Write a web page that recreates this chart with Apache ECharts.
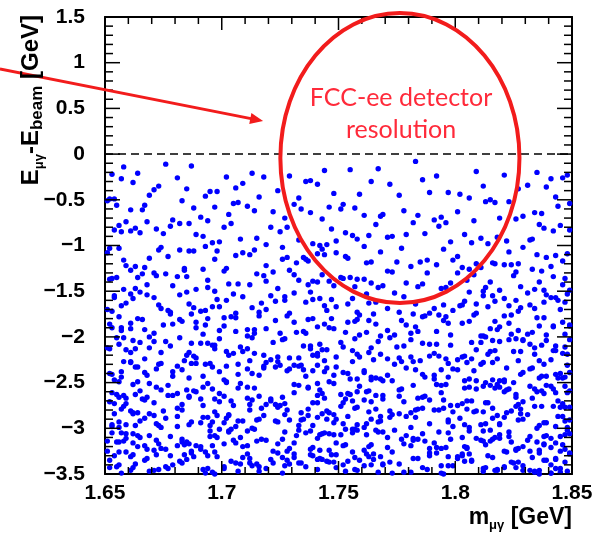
<!DOCTYPE html>
<html><head><meta charset="utf-8">
<script src="https://cdn.jsdelivr.net/npm/echarts@6/dist/echarts.min.js"></script>
<style>html,body{margin:0;padding:0;background:#fff}#c{width:598px;height:534px}</style>
</head><body><div id="c"></div>
<script>
// Axis ticks (GeV)
const xTickValues = [1.65, 1.7, 1.75, 1.8, 1.85];
const yTickValues = [-3.5, -3, -2.5, -2, -1.5, -1, -0.5, 0, 0.5, 1, 1.5];
const xMinorPerMajor = 5;
const yMinorPerMajor = 5;
const xTitle = ['m', '\u03bc\u03b3', ' [GeV]'];
const yTitle = ['E', '\u03bc\u03b3', '-E', 'beam', ' [GeV]'];
const annotationLines = ['FCC-ee detector', 'resolution'];
// annotation anchors in data coordinates (GeV)
const ellipseCenter = [1.7763, -0.043];
const ellipseRadii = [0.0512, 1.586];
const arrowStart = [1.605, 0.931];
const arrowEnd = [1.7177, 0.362];
const textAnchor1 = [1.7768, 0.614];
const textAnchor2 = [1.7768, 0.264];

// Event masses m_{mu gamma} (GeV)
const mass = [
1.713,1.658,1.792,1.744,1.821,1.676,1.835,1.702,1.767,1.653,1.809,1.729,1.687,1.848,1.755,1.664,1.783,1.718,1.841,1.695,1.772,1.806,1.736,1.669,1.827,
1.681,1.759,1.812,1.654,1.738,1.797,1.706,1.843,1.662,1.724,1.786,1.693,1.831,1.748,1.671,1.815,1.709,1.776,1.657,1.839,1.733,1.698,1.764,1.802,1.685,
1.846,1.716,1.673,1.789,1.741,1.652,1.823,1.761,1.697,1.808,1.666,1.752,1.727,1.834,1.683,1.794,1.711,1.659,1.778,1.817,1.703,1.743,1.688,1.849,1.768,
1.722,1.796,1.655,1.837,1.679,1.751,1.813,1.691,1.746,1.668,1.801,1.731,1.784,1.661,1.826,1.707,1.769,1.844,1.694,1.738,1.651,1.819,1.757,1.714,1.782,
1.667,1.829,1.734,1.705,1.791,1.656,1.758,1.842,1.719,1.682,1.804,1.749,1.663,1.773,1.836,1.696,1.725,1.811,1.678,1.787,1.742,1.654,1.832,1.701,1.763,
1.798,1.686,1.753,1.818,1.672,1.739,1.845,1.708,1.779,1.661,1.822,1.728,1.692,1.766,1.807,1.657,1.745,1.838,1.715,1.675,1.793,1.733,1.849,1.699,1.756,
1.704,1.771,1.665,1.814,1.747,1.689,1.833,1.721,1.652,1.785,1.741,1.803,1.677,1.761,1.824,1.698,1.736,1.659,1.795,1.846,1.712,1.684,1.768,1.816,1.726,
1.839,1.663,1.749,1.788,1.706,1.827,1.673,1.754,1.811,1.693,1.732,1.848,1.658,1.777,1.719,1.801,1.686,1.764,1.835,1.702,1.743,1.669,1.792,1.823,1.737,
1.674,1.809,1.728,1.651,1.781,1.843,1.714,1.697,1.762,1.829,1.667,1.744,1.799,1.688,1.821,1.735,1.656,1.775,1.709,1.841,1.753,1.682,1.817,1.726,1.661,
1.786,1.718,1.834,1.671,1.757,1.694,1.806,1.748,1.664,1.838,1.722,1.779,1.653,1.794,1.731,1.815,1.701,1.767,1.685,1.846,1.739,1.812,1.676,1.758,1.828,
1.692,1.741,1.825,1.658,1.773,1.712,1.847,1.684,1.796,1.733,1.666,1.819,1.755,1.703,1.837,1.679,1.788,1.724,1.652,1.808,1.764,1.697,1.842,1.719,1.771,
1.813,1.655,1.737,1.801,1.689,1.761,1.833,1.707,1.672,1.784,1.746,1.826,1.663,1.752,1.798,1.715,1.849,1.681,1.769,1.729,1.805,1.694,1.743,1.836,1.668,
1.751,1.831,1.699,1.662,1.776,1.817,1.721,1.845,1.686,1.738,1.791,1.654,1.809,1.766,1.705,1.823,1.677,1.747,1.839,1.713,1.659,1.782,1.727,1.803,1.691,
1.727,1.674,1.848,1.783,1.706,1.821,1.744,1.665,1.799,1.736,1.812,1.688,1.758,1.841,1.717,1.651,1.774,1.832,1.698,1.765,1.804,1.682,1.749,1.827,1.709,
1.844,1.763,1.693,1.816,1.657,1.731,1.789,1.702,1.828,1.671,1.754,1.806,1.719,1.847,1.678,1.742,1.795,1.661,1.834,1.723,1.687,1.778,1.814,1.739,1.653,
1.668,1.802,1.756,1.716,1.838,1.685,1.771,1.809,1.654,1.745,1.826,1.696,1.762,1.729,1.843,1.673,1.787,1.711,1.817,1.759,1.664,1.833,1.701,1.793,1.735,
1.797,1.711,1.835,1.748,1.679,1.824,1.763,1.657,1.786,1.725,1.846,1.699,1.741,1.813,1.666,1.779,1.732,1.808,1.689,1.757,1.839,1.706,1.771,1.652,1.821,
1.736,1.849,1.682,1.768,1.803,1.714,1.656,1.792,1.747,1.831,1.693,1.723,1.815,1.669,1.754,1.842,1.704,1.781,1.661,1.827,1.739,1.798,1.675,1.759,1.818,
1.683,1.753,1.819,1.701,1.847,1.766,1.661,1.737,1.811,1.689,1.784,1.728,1.836,1.671,1.795,1.746,1.657,1.823,1.716,1.774,1.842,1.694,1.762,1.806,1.719,
1.824,1.692,1.744,1.838,1.706,1.777,1.653,1.812,1.731,1.796,1.667,1.849,1.758,1.714,1.783,1.678,1.829,1.741,1.697,1.807,1.764,1.655,1.789,1.722,1.843,
1.759,1.816,1.674,1.735,1.801,1.687,1.848,1.727,1.663,1.776,1.832,1.709,1.752,1.685,1.819,1.743,1.796,1.658,1.768,1.837,1.702,1.781,1.724,1.669,1.811,
1.705,1.778,1.841,1.662,1.745,1.804,1.691,1.763,1.826,1.718,1.652,1.789,1.733,1.847,1.676,1.756,1.814,1.699,1.771,1.738,1.828,1.665,1.793,1.711,1.849,
1.791,1.656,1.729,1.834,1.767,1.703,1.817,1.682,1.749,1.798,1.661,1.839,1.721,1.775,1.694,1.809,1.741,1.671,1.825,1.757,1.689,1.843,1.714,1.786,1.738,
1.667,1.823,1.758,1.696,1.842,1.713,1.781,1.651,1.807,1.739,1.686,1.829,1.765,1.708,1.792,1.659,1.846,1.726,1.803,1.678,1.751,1.818,1.697,1.772,1.834,
1.815,1.742,1.688,1.797,1.657,1.832,1.724,1.769,1.679,1.848,1.755,1.712,1.786,1.664,1.821,1.735,1.805,1.692,1.761,1.838,1.701,1.779,1.668,1.744,1.813,
1.728,1.681,1.844,1.754,1.719,1.806,1.663,1.782,1.837,1.699,1.746,1.811,1.672,1.764,1.827,1.707,1.794,1.654,1.731,1.849,1.689,1.773,1.822,1.716,1.658,
1.846,1.761,1.702,1.825,1.673,1.736,1.799,1.684,1.816,1.752,1.661,1.787,1.723,1.843,1.695,1.768,1.808,1.741,1.656,1.833,1.713,1.777,1.686,1.801,1.748,
1.693,1.809,1.733,1.657,1.785,1.847,1.711,1.764,1.674,1.828,1.749,1.702,1.816,1.667,1.791,1.725,1.839,1.683,1.756,1.804,1.718,1.652,1.774,1.836,1.739,
1.771,1.718,1.664,1.836,1.744,1.797,1.687,1.821,1.729,1.653,1.812,1.758,1.696,1.845,1.734,1.679,1.783,1.819,1.707,1.766,1.661,1.829,1.745,1.791,1.702,
1.818,1.659,1.776,1.727,1.843,1.692,1.805,1.741,1.669,1.789,1.834,1.712,1.754,1.677,1.826,1.699,1.763,1.847,1.721,1.655,1.798,1.737,1.686,1.814,1.762,
1.704,1.832,1.751,1.683,1.809,1.726,1.662,1.795,1.848,1.737,1.671,1.822,1.769,1.708,1.784,1.654,1.817,1.743,1.691,1.839,1.716,1.778,1.665,1.801,1.758,
1.677,1.748,1.813,1.696,1.769,1.841,1.721,1.653,1.786,1.733,1.827,1.688,1.755,1.804,1.667,1.792,1.711,1.846,1.742,1.681,1.819,1.764,1.701,1.835,1.725,
1.842,1.713,1.782,1.656,1.739,1.821,1.694,1.766,1.807,1.672,1.753,1.838,1.719,1.685,1.796,1.744,1.663,1.829,1.707,1.776,1.812,1.659,1.731,1.849,1.697,
1.752,1.806,1.668,1.731,1.844,1.699,1.777,1.723,1.658,1.815,1.761,1.689,1.833,1.741,1.803,1.674,1.787,1.714,1.652,1.826,1.759,1.705,1.794,1.666,1.837,
1.686,1.794,1.741,1.823,1.679,1.756,1.711,1.847,1.768,1.664,1.799,1.728,1.813,1.692,1.751,1.839,1.703,1.781,1.657,1.734,1.818,1.673,1.763,1.829,1.717,
1.811,1.654,1.767,1.702,1.835,1.745,1.681,1.789,1.826,1.716,1.662,1.843,1.737,1.797,1.671,1.758,1.804,1.694,1.772,1.848,1.727,1.665,1.816,1.748,1.783,
1.733,1.779,1.697,1.849,1.713,1.662,1.802,1.757,1.686,1.831,1.724,1.791,1.653,1.768,1.842,1.709,1.746,1.819,1.676,1.784,1.739,1.698,1.827,1.661,1.806,
1.669,1.838,1.724,1.783,1.653,1.812,1.749,1.696,1.773,1.845,1.706,1.821,1.683,1.762,1.734,1.797,1.658,1.836,1.718,1.766,1.691,1.808,1.745,1.674,1.828,
1.795,1.707,1.846,1.675,1.758,1.816,1.692,1.737,1.805,1.663,1.781,1.729,1.849,1.701,1.772,1.824,1.656,1.748,1.834,1.687,1.764,1.712,1.819,1.743,1.681,
1.723,1.844,1.681,1.799,1.752,1.667,1.828,1.715,1.776,1.695,1.837,1.741,1.656,1.809,1.761,1.703,1.786,1.672,1.822,1.735,1.793,1.659,1.754,1.847,1.711,
1.838,1.678,1.761,1.816,1.704,1.792,1.743,1.655,1.827,1.769,1.686,1.803,1.722,1.847,1.696,1.758,1.811,1.668,1.779,1.731,1.841,1.709,1.653,1.787,1.746,
1.699,1.752,1.823,1.662,1.738,1.805,1.717,1.849,1.684,1.771,1.832,1.727,1.651,1.796,1.748,1.673,1.815,1.763,1.705,1.839,1.691,1.782,1.736,1.824,1.667,
1.774,1.826,1.708,1.749,1.659,1.841,1.782,1.695,1.813,1.732,1.676,1.798,1.756,1.664,1.835,1.714,1.789,1.845,1.701,1.767,1.687,1.819,1.742,1.658,1.805,
1.657,1.791,1.733,1.847,1.698,1.764,1.819,1.672,1.742,1.806,1.711,1.838,1.683,1.757,1.794,1.726,1.662,1.829,1.778,1.703,1.845,1.741,1.669,1.812,1.753,
1.812,1.729,1.665,1.786,1.836,1.719,1.753,1.681,1.843,1.697,1.771,1.823,1.656,1.738,1.809,1.762,1.691,1.848,1.724,1.784,1.651,1.797,1.715,1.832,1.674,
1.746,1.689,1.831,1.756,1.671,1.817,1.706,1.793,1.739,1.664,1.846,1.777,1.703,1.826,1.685,1.751,1.804,1.659,1.766,1.838,1.728,1.695,1.815,1.744,1.781,
1.683,1.849,1.716,1.801,1.767,1.654,1.788,1.734,1.822,1.694,1.759,1.841,1.672,1.799,1.745,1.707,1.833,1.679,1.762,1.818,1.721,1.652,1.776,1.836,1.698,
1.827,1.741,1.693,1.841,1.712,1.778,1.662,1.813,1.754,1.687,1.832,1.722,1.768,1.657,1.807,1.736,1.849,1.701,1.789,1.669,1.824,1.757,1.713,1.795,1.743,
1.715,1.803,1.758,1.667,1.826,1.739,1.696,1.847,1.773,1.655,1.784,1.818,1.708,1.749,1.834,1.682,1.761,1.801,1.726,1.843,1.677,1.792,1.733,1.661,1.816,
1.769,1.662,1.839,1.724,1.781,1.706,1.814,1.673,1.742,1.829,1.697,1.753,1.807,1.684,1.845,1.731,1.656,1.794,1.765,1.711,1.821,1.748,1.688,1.836,1.729,
1.821,1.704,1.747,1.812,1.668,1.797,1.836,1.719,1.683,1.763,1.841,1.728,1.659,1.786,1.752,1.694,1.829,1.741,1.806,1.676,1.772,1.845,1.709,1.757,1.663,
1.738,1.794,1.685,1.848,1.756,1.712,1.821,1.661,1.773,1.804,1.731,1.692,1.843,1.764,1.678,1.817,1.746,1.701,1.789,1.834,1.652,1.726,1.812,1.769,1.697,
1.803,1.671,1.765,1.727,1.838,1.693,1.782,1.749,1.656,1.825,1.716,1.797,1.843,1.684,1.753,1.809,1.736,1.664,1.847,1.771,1.706,1.819,1.741,1.679,1.791
];

// Event energy differences E_{mu gamma} - E_beam (GeV), read band by band from the top
const deltaE = [
-0.21,-0.14,-0.24,-0.18,-0.23,-0.11,-0.2,-0.25,-0.16,-0.22,-0.19,-0.24,-0.13,-0.23,-0.17,-0.21,-0.08,-0.25,
-0.27,-0.41,-0.33,-0.48,-0.3,-0.45,-0.38,-0.26,-0.44,-0.35,-0.49,-0.29,-0.42,-0.37,-0.47,-0.31,-0.4,-0.28,-0.46,-0.34,-0.43,-0.39,-0.5,-0.32,-0.45,-0.27,-0.36,-0.48,-0.41,-0.3,-0.44,-0.38,-0.26,-0.47,-0.35,-0.42,-0.33,-0.49,
-0.52,-0.67,-0.58,-0.73,-0.61,-0.55,-0.7,-0.64,-0.51,-0.69,-0.57,-0.74,-0.62,-0.53,-0.66,-0.71,-0.59,-0.54,-0.68,-0.63,-0.75,-0.56,-0.65,-0.72,-0.6,-0.52,-0.69,-0.58,-0.74,-0.63,-0.55,-0.67,-0.61,-0.71,-0.53,-0.66,-0.57,-0.73,-0.64,-0.51,-0.7,-0.59,-0.62,-0.75,-0.56,-0.68,-0.6,-0.54,-0.72,
-0.78,-0.93,-0.84,-0.99,-0.76,-0.88,-0.95,-0.81,-0.9,-0.77,-0.97,-0.85,-0.92,-0.79,-0.87,-1.0,-0.83,-0.94,-0.8,-0.89,-0.96,-0.76,-0.86,-0.91,-0.82,-0.98,-0.78,-0.93,-0.88,-0.84,-0.95,-0.8,-0.9,-0.77,-0.97,-0.85,-0.99,-0.81,-0.92,-0.87,-0.79,-0.94,-0.83,-0.96,-0.89,-0.76,-0.91,-0.86,-0.98,-0.82,-0.88,-0.93,-0.8,
-1.03,-1.18,-1.09,-1.24,-1.12,-1.01,-1.21,-1.06,-1.15,-1.22,-1.04,-1.17,-1.1,-1.25,-1.07,-1.19,-1.02,-1.13,-1.23,-1.08,-1.16,-1.11,-1.2,-1.05,-1.14,
-1.24,-1.01,-1.19,-1.09,-1.16,-1.03,-1.22,-1.12,-1.06,-1.18,-1.1,-1.25,-1.04,-1.14,-1.21,-1.07,-1.17,-1.02,-1.2,-1.13,-1.08,-1.23,-1.11,-1.05,-1.15,
-1.19,-1.02,-1.24,-1.1,-1.16,-1.06,-1.21,-1.13,-1.03,-1.18,-1.08,-1.23,-1.12,-1.05,-1.2,-1.15,
-1.27,-1.42,-1.33,-1.48,-1.3,-1.45,-1.38,-1.26,-1.44,-1.35,-1.49,-1.29,-1.41,-1.36,-1.47,-1.32,-1.4,-1.28,-1.46,-1.34,-1.43,-1.39,-1.5,-1.31,-1.37,
-1.45,-1.26,-1.4,-1.33,-1.48,-1.29,-1.43,-1.36,-1.27,-1.46,-1.38,-1.31,-1.49,-1.35,-1.42,-1.28,-1.44,-1.3,-1.47,-1.37,-1.32,-1.41,-1.5,-1.34,-1.39,
-1.28,-1.46,-1.35,-1.43,-1.3,-1.48,-1.37,-1.26,-1.42,-1.33,-1.45,-1.39,-1.29,-1.47,-1.36,-1.41,-1.31,-1.49,-1.34,-1.44,-1.27,-1.38,-1.46,-1.32,-1.4,
-1.43,-1.35,
-1.52,-1.67,-1.58,-1.73,-1.61,-1.55,-1.7,-1.64,-1.51,-1.69,-1.57,-1.74,-1.62,-1.53,-1.66,-1.71,-1.59,-1.54,-1.68,-1.63,-1.75,-1.56,-1.65,-1.72,-1.6,
-1.69,-1.53,-1.64,-1.74,-1.58,-1.66,-1.51,-1.71,-1.62,-1.55,-1.68,-1.73,-1.57,-1.63,-1.7,-1.52,-1.65,-1.59,-1.75,-1.61,-1.54,-1.67,-1.72,-1.56,-1.6,
-1.63,-1.71,-1.55,-1.66,-1.52,-1.74,-1.6,-1.68,-1.57,-1.64,-1.51,-1.7,-1.62,-1.73,-1.58,-1.65,-1.53,-1.69,-1.61,-1.75,-1.56,-1.67,-1.59,-1.72,-1.54,
-1.66,-1.58,-1.73,-1.62,-1.51,-1.69,-1.64,-1.55,-1.71,-1.6,-1.67,-1.53,-1.74,-1.57,-1.65,
-1.77,-1.92,-1.83,-1.98,-1.8,-1.95,-1.88,-1.76,-1.94,-1.85,-1.99,-1.79,-1.91,-1.86,-1.97,-1.82,-1.9,-1.78,-1.96,-1.84,-1.93,-1.89,-2.0,-1.81,-1.87,
-1.95,-1.76,-1.9,-1.83,-1.98,-1.79,-1.93,-1.86,-1.77,-1.96,-1.88,-1.81,-1.99,-1.85,-1.92,-1.78,-1.94,-1.8,-1.97,-1.87,-1.82,-1.91,-2.0,-1.84,-1.89,
-1.78,-1.96,-1.85,-1.93,-1.8,-1.98,-1.87,-1.76,-1.92,-1.83,-1.95,-1.89,-1.79,-1.97,-1.86,-1.91,-1.81,-1.99,-1.84,-1.94,-1.77,-1.88,-1.96,-1.82,-1.9,
-1.93,-1.85,-1.77,-1.98,-1.88,-1.8,-1.95,-1.83,-1.91,-1.76,-1.97,-1.86,-1.79,-1.94,-1.82,-1.9,-1.99,-1.84,-1.78,-1.92,-1.87,-1.81,-1.96,-1.89,-1.75,
-2.03,-2.18,-2.09,-2.24,-2.12,-2.01,-2.21,-2.06,-2.15,-2.22,-2.04,-2.17,-2.1,-2.25,-2.07,-2.19,-2.02,-2.13,-2.23,-2.08,-2.16,-2.11,-2.2,-2.05,-2.14,
-2.24,-2.01,-2.19,-2.09,-2.16,-2.03,-2.22,-2.12,-2.06,-2.18,-2.1,-2.25,-2.04,-2.14,-2.21,-2.07,-2.17,-2.02,-2.2,-2.13,-2.08,-2.23,-2.11,-2.05,-2.15,
-2.19,-2.02,-2.24,-2.1,-2.16,-2.06,-2.21,-2.13,-2.03,-2.18,-2.08,-2.23,-2.12,-2.05,-2.2,-2.15,-2.01,-2.22,-2.09,-2.17,-2.04,-2.25,-2.11,-2.07,-2.14,
-2.21,-2.05,-2.16,-2.02,-2.23,-2.1,-2.18,-2.07,-2.13,-2.24,-2.03,-2.19,-2.09,-2.15,-2.01,-2.22,-2.12,-2.06,-2.2,-2.17,-2.04,-2.25,-2.11,-2.08,-2.14,
-2.18,-2.03,-2.22,-2.1,-2.06,-2.24,-2.13,-2.01,-2.19,-2.16,-2.08,-2.21,
-2.29,-2.44,-2.35,-2.27,-2.48,-2.38,-2.31,-2.46,-2.26,-2.41,-2.33,-2.49,-2.36,-2.28,-2.43,-2.39,-2.3,-2.47,-2.34,-2.42,-2.26,-2.5,-2.37,-2.32,-2.45,
-2.4,-2.28,-2.46,-2.33,-2.27,-2.43,-2.38,-2.49,-2.3,-2.35,-2.44,-2.26,-2.41,-2.36,-2.47,-2.31,-2.39,-2.29,-2.48,-2.34,-2.42,-2.27,-2.45,-2.37,-2.32,
-2.5,-2.3,-2.43,-2.35,-2.26,-2.47,-2.39,-2.28,-2.44,-2.33,-2.41,-2.29,-2.46,-2.37,-2.31,-2.49,-2.34,-2.4,-2.27,-2.45,-2.36,-2.42,-2.3,-2.48,-2.32,
-2.38,-2.26,-2.44,-2.35,-2.47,-2.29,-2.41,-2.33,-2.5,-2.28,-2.39,-2.46,-2.31,-2.43,-2.36,-2.27,-2.48,-2.34,-2.4,-2.3,-2.45,-2.37,-2.42,-2.32,-2.49,
-2.26,-2.38,-2.44,-2.29,-2.47,-2.35,-2.41,-2.28,-2.46,-2.33,-2.4,-2.31,-2.43,-2.36,-2.48,-2.3,-2.45,-2.27,-2.39,-2.34,-2.42,-2.49,
-2.52,-2.67,-2.58,-2.73,-2.61,-2.55,-2.7,-2.64,-2.51,-2.69,-2.57,-2.74,-2.62,-2.53,-2.66,-2.71,-2.59,-2.54,-2.68,-2.63,-2.75,-2.56,-2.65,-2.72,-2.6,
-2.7,-2.54,-2.63,-2.74,-2.57,-2.66,-2.52,-2.69,-2.61,-2.55,-2.72,-2.58,-2.64,-2.51,-2.67,-2.73,-2.56,-2.62,-2.68,-2.53,-2.65,-2.71,-2.59,-2.75,-2.6,
-2.64,-2.51,-2.72,-2.57,-2.68,-2.54,-2.7,-2.61,-2.66,-2.53,-2.74,-2.59,-2.63,-2.56,-2.69,-2.52,-2.67,-2.73,-2.58,-2.62,-2.55,-2.71,-2.65,-2.6,-2.75,
-2.57,-2.69,-2.53,-2.66,-2.72,-2.6,-2.51,-2.64,-2.7,-2.55,-2.68,-2.62,-2.74,-2.58,-2.52,-2.67,-2.63,-2.71,-2.56,-2.65,-2.54,-2.73,-2.61,-2.59,-2.68,
-2.72,-2.55,-2.66,-2.52,-2.7,-2.62,-2.57,-2.74,-2.64,-2.53,-2.69,-2.6,-2.67,-2.51,-2.73,-2.58,-2.65,-2.56,-2.71,-2.63,-2.54,-2.75,-2.61,-2.68,-2.59,
-2.66,-2.53,-2.72,-2.57,-2.64,-2.7,-2.55,
-2.77,-2.92,-2.83,-2.98,-2.8,-2.95,-2.88,-2.76,-2.94,-2.85,-2.99,-2.79,-2.91,-2.86,-2.97,-2.82,-2.9,-2.78,-2.96,-2.84,-2.93,-2.89,-3.0,-2.81,-2.87,
-2.95,-2.76,-2.9,-2.83,-2.98,-2.79,-2.93,-2.86,-2.77,-2.96,-2.88,-2.81,-2.99,-2.85,-2.92,-2.78,-2.94,-2.8,-2.97,-2.87,-2.82,-2.91,-3.0,-2.84,-2.89,
-2.78,-2.96,-2.85,-2.93,-2.8,-2.98,-2.87,-2.76,-2.92,-2.83,-2.95,-2.89,-2.79,-2.97,-2.86,-2.91,-2.81,-2.99,-2.84,-2.94,-2.77,-2.88,-2.96,-2.82,-2.9,
-2.93,-2.85,-2.77,-2.98,-2.88,-2.8,-2.95,-2.83,-2.91,-2.76,-2.97,-2.86,-2.79,-2.94,-2.82,-2.9,-2.99,-2.84,-2.78,-2.92,-2.87,-2.81,-2.96,-2.89,-2.75,
-2.86,-2.79,-2.97,-2.83,-2.91,-2.77,-2.94,-2.88,-2.81,-2.99,-2.85,-2.76,-2.93,-2.9,-2.8,-2.96,-2.84,-2.78,-2.92,-2.87,-2.98,-2.82,-2.95,-2.89,-2.79,
-2.91,-2.84,-2.97,-2.76,-2.88,-2.93,-2.81,-2.99,-2.86,-2.78,-2.95,-2.83,-2.9,-2.8,-2.96,-2.87,-2.92,
-3.03,-3.18,-3.09,-3.24,-3.12,-3.01,-3.21,-3.06,-3.15,-3.22,-3.04,-3.17,-3.1,-3.25,-3.07,-3.19,-3.02,-3.13,-3.23,-3.08,-3.16,-3.11,-3.2,-3.05,-3.14,
-3.24,-3.01,-3.19,-3.09,-3.16,-3.03,-3.22,-3.12,-3.06,-3.18,-3.1,-3.25,-3.04,-3.14,-3.21,-3.07,-3.17,-3.02,-3.2,-3.13,-3.08,-3.23,-3.11,-3.05,-3.15,
-3.19,-3.02,-3.24,-3.1,-3.16,-3.06,-3.21,-3.13,-3.03,-3.18,-3.08,-3.23,-3.12,-3.05,-3.2,-3.15,-3.01,-3.22,-3.09,-3.17,-3.04,-3.25,-3.11,-3.07,-3.14,
-3.21,-3.05,-3.16,-3.02,-3.23,-3.1,-3.18,-3.07,-3.13,-3.24,-3.03,-3.19,-3.09,-3.15,-3.01,-3.22,-3.12,-3.06,-3.2,-3.17,-3.04,-3.25,-3.11,-3.08,-3.14,
-3.18,-3.03,-3.22,-3.1,-3.06,-3.24,-3.13,-3.01,-3.19,-3.16,-3.08,-3.21,-3.04,-3.15,-3.23,-3.11,-3.07,-3.2,-3.02,-3.17,-3.12,-3.25,-3.05,-3.14,-3.09,
-3.22,-3.06,-3.19,-3.13,-3.01,-3.24,-3.1,-3.16,-3.04,-3.21,-3.08,-3.18,-3.12,-3.03,-3.23,-3.15,-3.07,-3.2,-3.11,-3.02,-3.17,-3.25,-3.09,-3.14,-3.05,
-3.19,-3.12,
-3.27,-3.42,-3.33,-3.48,-3.3,-3.45,-3.38,-3.26,-3.44,-3.35,-3.49,-3.29,-3.41,-3.36,-3.47,-3.32,-3.4,-3.28,-3.46,-3.34,-3.43,-3.39,-3.5,-3.31,-3.37,
-3.45,-3.26,-3.4,-3.33,-3.48,-3.29,-3.43,-3.36,-3.27,-3.46,-3.38,-3.31,-3.49,-3.35,-3.42,-3.28,-3.44,-3.3,-3.47,-3.37,-3.32,-3.41,-3.5,-3.34,-3.39,
-3.28,-3.46,-3.35,-3.43,-3.3,-3.48,-3.37,-3.26,-3.42,-3.33,-3.45,-3.39,-3.29,-3.47,-3.36,-3.41,-3.31,-3.49,-3.34,-3.44,-3.27,-3.38,-3.46,-3.32,-3.4,
-3.43,-3.35,-3.27,-3.48,-3.38,-3.3,-3.45,-3.33,-3.41,-3.26,-3.47,-3.36,-3.29,-3.44,-3.32,-3.4,-3.49,-3.34,-3.28,-3.42,-3.37,-3.31,-3.46,-3.39,-3.25,
-3.36,-3.29,-3.47,-3.33,-3.41,-3.27,-3.44,-3.38,-3.31,-3.49,-3.35,-3.26,-3.43,-3.4,-3.3,-3.46,-3.34,-3.28,-3.42,-3.37,-3.48,-3.32,-3.45,-3.39,-3.29,
-3.41,-3.34,-3.47,-3.26,-3.38,-3.43,-3.31,-3.49,-3.36,-3.28,-3.45,-3.33,-3.4,-3.3,-3.46,-3.37,-3.42,-3.27,-3.48,-3.35,-3.32,-3.44,-3.39,-3.5,-3.3,
-3.46,-3.28,-3.41,-3.35,-3.49,-3.33,-3.43,-3.26,-3.38,-3.47,-3.31,-3.44
];

const n = Math.min(mass.length, deltaE.length);
const points = [];
for (let i = 0; i < n; i++) points.push([mass[i], deltaE[i]]);

const FONT = '"Liberation Sans", Arial, Helvetica, sans-serif';
const chart = echarts.init(document.getElementById('c'));

const fmtX = v => String(Math.round(v * 100) / 100);
const fmtY = v => String(Math.round(v * 10) / 10).replace('-', '\u2212');
const xMin = xTickValues[0], xMax = xTickValues[xTickValues.length - 1];
const yMin = yTickValues[0], yMax = yTickValues[yTickValues.length - 1];

function xAxisDef(position, showLabel) {
  return {
    type: 'value', position: position, min: xMin, max: xMax, interval: 0.05,
    splitLine: {show: false},
    axisLine: {show: true, onZero: false, lineStyle: {color: '#000', width: 2}},
    axisTick: {show: false},
    axisLabel: showLabel ? {formatter: fmtX, color: '#000', fontFamily: FONT, fontWeight: 'bold', fontSize: 21, margin: 9} : {show: false}
  };
}
function yAxisDef(position, showLabel) {
  return {
    type: 'value', position: position, min: yMin, max: yMax, interval: 0.5,
    splitLine: {show: false},
    axisLine: {show: true, onZero: false, lineStyle: {color: '#000', width: 2}},
    axisTick: {show: false},
    axisLabel: showLabel ? {formatter: fmtY, color: '#000', fontFamily: FONT, fontWeight: 'bold', fontSize: 21, margin: 20} : {show: false}
  };
}

chart.setOption({
  animation: false,
  grid: {left: 105, top: 17, width: 467, height: 457},
  xAxis: [xAxisDef('bottom', true), xAxisDef('top', false)],
  yAxis: [yAxisDef('left', true), yAxisDef('right', false)],
  series: [{
    type: 'scatter',
    xAxisIndex: 0, yAxisIndex: 0,
    data: points,
    symbol: 'circle',
    symbolSize: 5.4,
    itemStyle: {color: '#0000ff', opacity: 1},
    markLine: {
      silent: true, symbol: 'none', animation: false,
      label: {show: false},
      lineStyle: {type: [8, 5], color: '#000', width: 1.5},
      data: [{yAxis: 0}]
    }
  }]
});

function drawAnnotations() {
  const px = p => chart.convertToPixel({xAxisIndex: 0, yAxisIndex: 0}, p);
  const g = [];
  // inside tick marks on all four sides, placed through the axis scales
  const bl = px([xMin, yMin]), tr = px([xMax, yMax]);
  const tickStyle = {stroke: '#000', lineWidth: 1.5};
  const addTick = (x1, y1, x2, y2) => g.push({type: 'line', z: 90, silent: true, shape: {x1, y1, x2, y2}, style: tickStyle});
  for (let i = 0; i < xTickValues.length; i++) {
    const v0 = xTickValues[i];
    const x = px([v0, yMin])[0];
    addTick(x, bl[1], x, bl[1] - 13); addTick(x, tr[1], x, tr[1] + 13);
    if (i < xTickValues.length - 1) {
      const step = (xTickValues[i + 1] - v0) / xMinorPerMajor;
      for (let k = 1; k < xMinorPerMajor; k++) {
        const xm = px([v0 + k * step, yMin])[0];
        addTick(xm, bl[1], xm, bl[1] - 7); addTick(xm, tr[1], xm, tr[1] + 7);
      }
    }
  }
  for (let i = 0; i < yTickValues.length; i++) {
    const v0 = yTickValues[i];
    const y = px([xMin, v0])[1];
    addTick(bl[0], y, bl[0] + 15, y); addTick(tr[0], y, tr[0] - 15, y);
    if (i < yTickValues.length - 1) {
      const step = (yTickValues[i + 1] - v0) / yMinorPerMajor;
      for (let k = 1; k < yMinorPerMajor; k++) {
        const ym = px([xMin, v0 + k * step])[1];
        addTick(bl[0], ym, bl[0] + 8, ym); addTick(tr[0], ym, tr[0] - 8, ym);
      }
    }
  }
  const c = px(ellipseCenter);
  const e = px([ellipseCenter[0] + ellipseRadii[0], ellipseCenter[1] + ellipseRadii[1]]);
  const rx = Math.abs(e[0] - c[0]), ry = Math.abs(e[1] - c[1]);
  const a0 = px(arrowStart), a1 = px(arrowEnd);
  const dx = a1[0] - a0[0], dy = a1[1] - a0[1], L = Math.hypot(dx, dy);
  const ux = dx / L, uy = dy / L, headLen = 13, headW = 5.5;
  const b = [a1[0] - ux * headLen, a1[1] - uy * headLen];
  const t1 = px(textAnchor1), t2 = px(textAnchor2);
  const red = '#f21c1c';
  const textRed = '#ff2a3a';
  const main = {fontFamily: FONT, fontWeight: 'bold', fontSize: 23, fill: '#000'};
  const sub = {fontFamily: FONT, fontWeight: 'bold', fontSize: 13, fill: '#000', padding: [15, 0, 0, 0]};
  const yMain = {fontFamily: FONT, fontWeight: 'bold', fontSize: 24, fill: '#000'};
  const ySub = {fontFamily: FONT, fontWeight: 'bold', fontSize: 13, fill: '#000', padding: [16, 0, 0, 0]};
  const yBeam = {fontFamily: FONT, fontWeight: 'bold', fontSize: 17, fill: '#000', padding: [13, 0, 0, 0]};
  g.push(
    {type: 'ellipse', z: 100, silent: true, shape: {cx: c[0], cy: c[1], rx: rx, ry: ry},
     style: {fill: 'none', stroke: red, lineWidth: 4}},
    {type: 'line', z: 100, silent: true, shape: {x1: a0[0], y1: a0[1], x2: b[0] + ux * 2, y2: b[1] + uy * 2},
     style: {stroke: red, lineWidth: 3}},
    {type: 'polygon', z: 100, silent: true,
     shape: {points: [[a1[0], a1[1]], [b[0] - uy * headW, b[1] + ux * headW], [b[0] + uy * headW, b[1] - ux * headW]]},
     style: {fill: red}},
    {type: 'text', z: 100, silent: true, x: t1[0], y: t1[1],
     style: {text: annotationLines[0], fill: textRed, font: '25px Lato, "Open Sans", sans-serif', align: 'center', verticalAlign: 'middle'}},
    {type: 'text', z: 100, silent: true, x: t2[0], y: t2[1],
     style: {text: annotationLines[1], fill: textRed, font: '25px Lato, "Open Sans", sans-serif', align: 'center', verticalAlign: 'middle'}},
    {type: 'text', z: 100, silent: true, x: 572, y: 518,
     style: {text: '{m|' + xTitle[0] + '}{s|' + xTitle[1] + '}{m|' + xTitle[2] + '}', align: 'right', verticalAlign: 'middle',
             rich: {m: main, s: sub}}},
    {type: 'text', z: 100, silent: true, x: 31, y: 15, rotation: Math.PI / 2,
     style: {text: '{m|' + yTitle[0] + '}{s|' + yTitle[1] + '}{m|' + yTitle[2] + '}{b|' + yTitle[3] + '}{m|' + yTitle[4] + '}',
             align: 'right', verticalAlign: 'middle',
             rich: {m: yMain, s: ySub, b: yBeam}}}
  );
  chart.setOption({graphic: g});
}
drawAnnotations();
</script>
</body></html>
